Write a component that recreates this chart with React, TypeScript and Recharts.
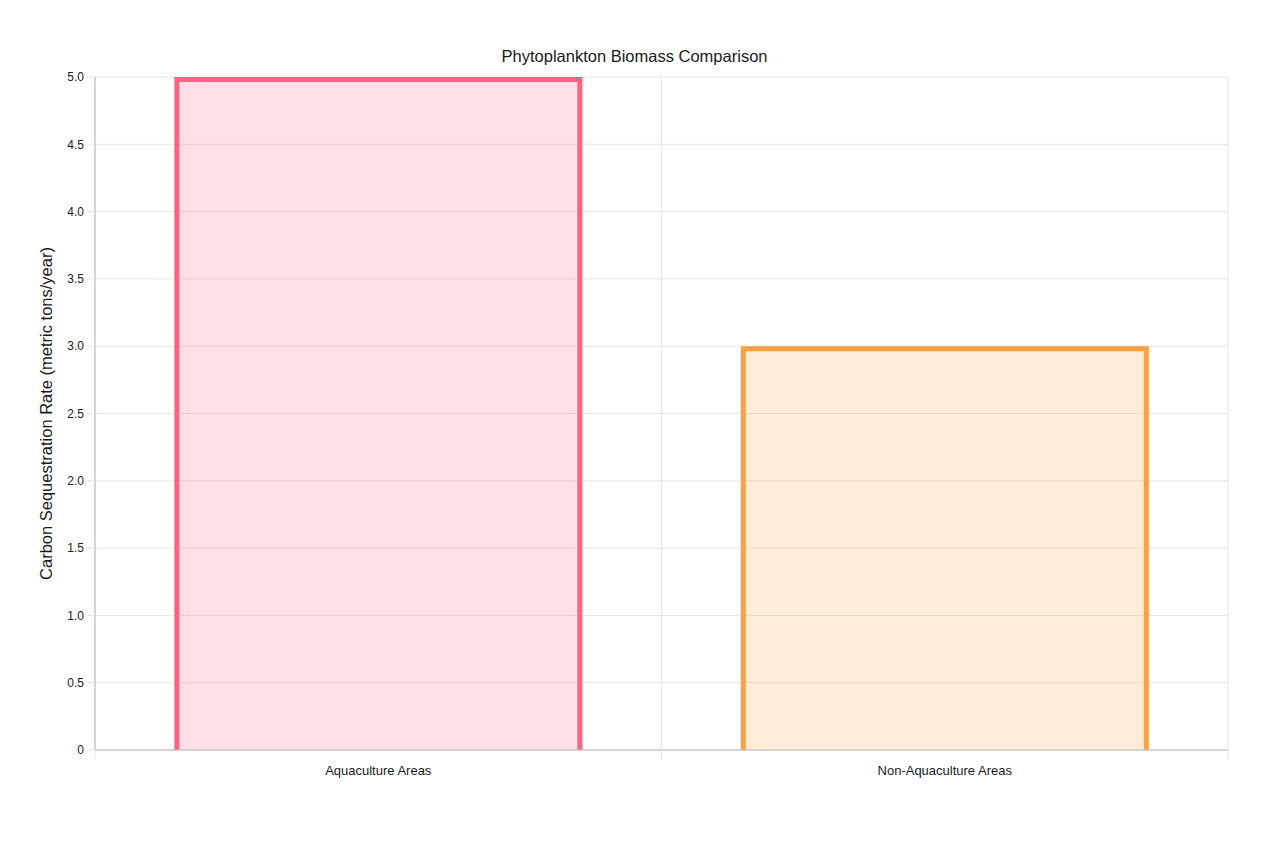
import React from "react";
import {
  Bar,
  BarChart,
  CartesianGrid,
  XAxis,
  YAxis,
} from "recharts";

const categories = ["Aquaculture Areas", "Non-Aquaculture Areas"];
const rates = [5.0, 3.0];
const borderColors = ["#ff6384", "#ff9f40"];
const fillColors = ["rgba(255, 99, 132, 0.2)", "rgba(255, 159, 64, 0.2)"];
const yTicks = [0, 0.5, 1, 1.5, 2, 2.5, 3, 3.5, 4, 4.5, 5];

const data = categories.map((name, i) => ({ name, rate: rates[i], idx: i }));

const FONT = '"Liberation Sans", Arial, Helvetica, sans-serif';
const GRID = "#e5e5e5";
const AXIS = "#b8b8b8";
const TEXT = "#1a1a1a";
const BORDER = 5;
const TICK_SIZE = 10;
const TICK_MARGIN = 6;

function BorderedBar(props: any) {
  const { x, y, width, height, payload } = props;
  if (!height || height <= 0) return null;
  const i = payload.idx;
  const h = BORDER / 2;
  return (
    <g>
      <rect x={x} y={y} width={width} height={height} fill={fillColors[i]} />
      <path
        d={`M${x + h},${y + height} L${x + h},${y + h} L${x + width - h},${y + h} L${x + width - h},${y + height}`}
        fill="none"
        stroke={borderColors[i]}
        strokeWidth={BORDER}
      />
    </g>
  );
}

function XTick(props: any) {
  const { x, y, payload } = props;
  const half = payload.offset ?? 283;
  const axisY = y - TICK_SIZE - TICK_MARGIN;
  return (
    <g>
      <line x1={x - half} x2={x - half} y1={axisY} y2={axisY + TICK_SIZE} stroke={GRID} />
      <line x1={x + half} x2={x + half} y1={axisY} y2={axisY + TICK_SIZE} stroke={GRID} />
      <text x={x} y={y + 9} textAnchor="middle" fontSize={13} fill={TEXT} fontFamily={FONT}>
        {payload.value}
      </text>
    </g>
  );
}

export default function App() {
  return (
    <div style={{ position: "relative", width: 1259, height: 835, fontFamily: FONT }}>
      <div
        style={{
          position: "absolute",
          top: 39,
          left: 0,
          width: 1253,
          textAlign: "center",
          fontSize: 16.5,
          lineHeight: "18px",
          color: TEXT,
        }}
      >
        Phytoplankton Biomass Comparison
      </div>
      <BarChart
        width={1259}
        height={835}
        data={data}
        margin={{ top: 69, right: 39, left: 27, bottom: 0 }}
        barCategoryGap="14%"
      >
        <CartesianGrid
          stroke={GRID}
          horizontalValues={yTicks}
          verticalCoordinatesGenerator={({ offset }: any) =>
            categories.map((_, i) => offset.left + (i * offset.width) / categories.length).concat(offset.left + offset.width)
          }
        />
        <XAxis
          dataKey="name"
          height={93}
          axisLine={{ stroke: AXIS }}
          tickLine={false}
          tickSize={TICK_SIZE}
          tickMargin={TICK_MARGIN}
          tick={<XTick />}
          interval={0}
        />
        <YAxis
          width={60}
          domain={[0, 5]}
          ticks={yTicks}
          interval={0}
          tickFormatter={(v: number) => (v === 0 ? "0" : v.toFixed(1))}
          axisLine={{ stroke: AXIS }}
          tickLine={{ stroke: GRID }}
          tickSize={8}
          tickMargin={3}
          tick={{ fontSize: 12, fill: TEXT, fontFamily: FONT }}
          label={{
            content: ({ viewBox }: any) => {
              const cx = 38;
              const cy = viewBox.y + viewBox.height / 2;
              return (
                <text
                  x={cx}
                  y={cy}
                  transform={`rotate(-90, ${cx}, ${cy})`}
                  textAnchor="middle"
                  dominantBaseline="central"
                  fontSize={16.5}
                  fill={TEXT}
                  fontFamily={FONT}
                >
                  Carbon Sequestration Rate (metric tons/year)
                </text>
              );
            },
          }}
        />
        <Bar dataKey="rate" shape={<BorderedBar />} isAnimationActive={false} />
      </BarChart>
    </div>
  );
}
